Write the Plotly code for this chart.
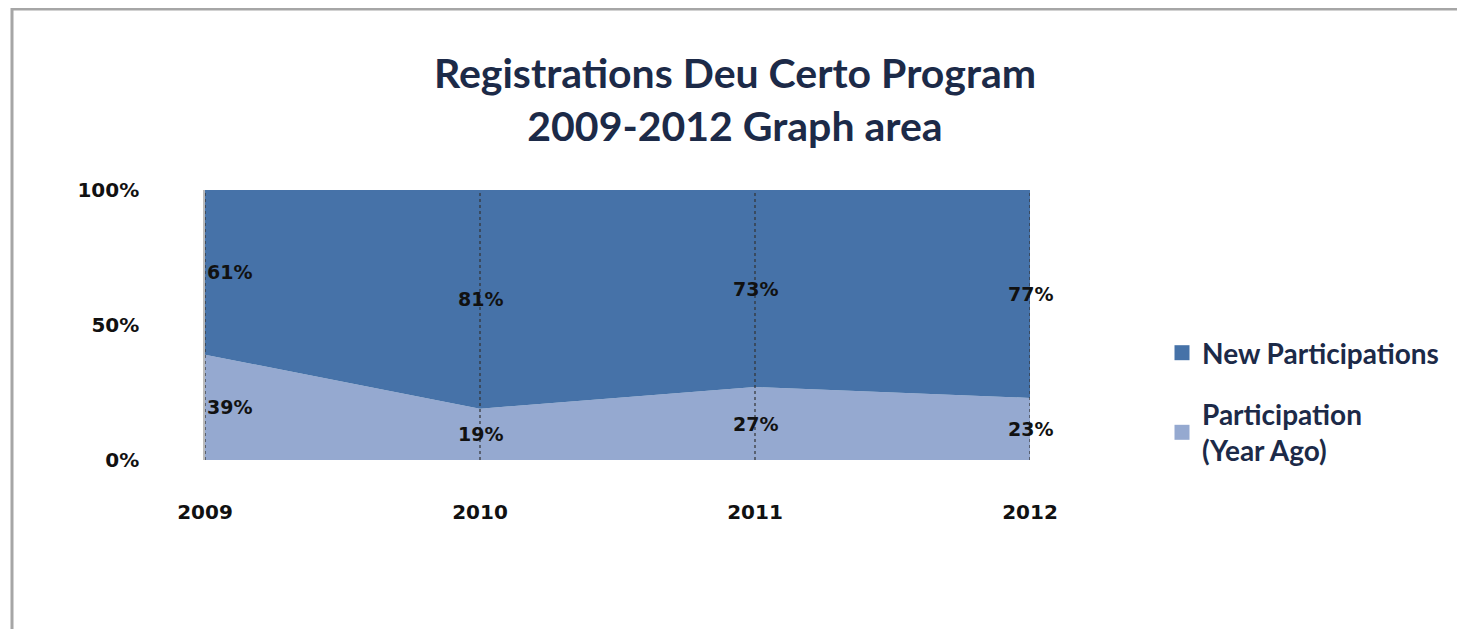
import plotly.graph_objects as go

years = [2009, 2010, 2011, 2012]
year_labels = ["2009", "2010", "2011", "2012"]
new_participations = [61, 81, 73, 77]
year_ago = [39, 19, 27, 23]
y_ticks = [0, 50, 100]
y_tick_labels = ["0%", "50%", "100%"]

DARK = "#4672A8"
LIGHT = "#95A9D0"
TXT = "#1C2A48"

OFF = 8  # browser body margin
W, H = 1465 - OFF, 629 - OFF
ML, MR, MT, MB = 205 - OFF, 435, 190 - OFF, 169
PW, PH = W - ML - MR, H - MT - MB

fig = go.Figure()
fig.add_trace(go.Scatter(
    x=years, y=year_ago, name="Participation (Year Ago)",
    stackgroup="one", mode="none", fillcolor=LIGHT, hoverinfo="skip",
    showlegend=False))
fig.add_trace(go.Scatter(
    x=years, y=new_participations, name="New Participations",
    stackgroup="one", mode="none", fillcolor=DARK, hoverinfo="skip",
    showlegend=False))

# legend entries with square swatches
fig.add_trace(go.Scatter(x=[None], y=[None], mode="markers", name="New Participations",
                         legendgroup="a", legendrank=1,
                         marker=dict(symbol="square", size=15, color=DARK)))
fig.add_trace(go.Scatter(x=[None], y=[None], mode="markers",
                         name="Participation<br>(Year Ago)",
                         legendgroup="b", legendrank=2,
                         marker=dict(symbol="square", size=15, color=LIGHT)))

lab_font = dict(family="DejaVu Sans", size=19, color="#111111", weight="bold")
for i, yr in enumerate(years):
    fig.add_shape(type="line", xref="x", yref="y", x0=yr, x1=yr, y0=0, y1=100,
                  line=dict(color="#333333", width=1.2, dash="dot"))
    anchor = "left" if i == 0 else "center"
    fig.add_annotation(x=yr, y=year_ago[i] / 2, text=f"{year_ago[i]}%",
                       showarrow=False, xanchor=anchor, font=lab_font)
    fig.add_annotation(x=yr, y=year_ago[i] + new_participations[i] / 2,
                       text=f"{new_participations[i]}%",
                       showarrow=False, xanchor=anchor, font=lab_font)

# outer frame (left and top edges visible)
fig.add_shape(type="rect", xref="paper", yref="paper",
              x0=(4 - ML) / PW, x1=(W + 10 - ML) / PW,
              y0=(H - MB - (H + 10)) / PH, y1=(H - MB - 1) / PH,
              line=dict(color="#A6A6A6", width=3), layer="below")

fig.update_layout(
    width=W, height=H,
    margin=dict(l=ML, r=MR, t=MT, b=MB),
    paper_bgcolor="white", plot_bgcolor="white",
    title=dict(text="Registrations Deu Certo Program<br>2009-2012 Graph area",
               x=(735 - OFF) / W, xref="container", xanchor="center",
               y=1 - (88 - OFF) / H, yref="container", yanchor="middle",
               font=dict(family="Lato", size=41, color=TXT, weight="bold")),
    xaxis=dict(range=[2009, 2012], tickvals=years, ticktext=year_labels,
               showgrid=False, zeroline=False, showline=False,
               ticks="", ticklabelstandoff=38,
               tickfont=dict(family="DejaVu Sans", size=20, color="#111111", weight="bold")),
    yaxis=dict(range=[0, 100], tickvals=y_ticks, ticktext=y_tick_labels,
               showgrid=False, zeroline=False, showline=True,
               linecolor="#BBBBBB", linewidth=1.5,
               ticks="", ticklabelstandoff=60,
               tickfont=dict(family="DejaVu Sans", size=20, color="#111111", weight="bold")),
    legend=dict(x=(1162 - OFF - ML) / PW, xanchor="left", y=(H - MB - (328 - OFF)) / PH,
                yanchor="top", traceorder="grouped", tracegroupgap=22, itemwidth=30,
                font=dict(family="Lato", size=28, color=TXT, weight="bold"),
                bgcolor="rgba(0,0,0,0)"),
    showlegend=True,
)

fig.write_html("out.html")
